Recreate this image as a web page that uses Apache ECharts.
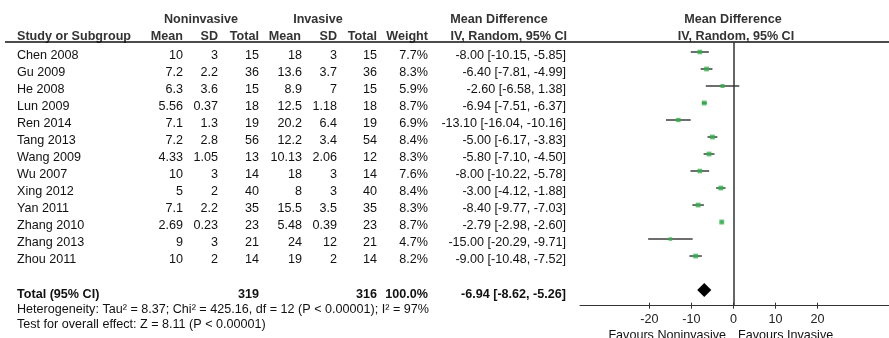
<!DOCTYPE html>
<html>
<head>
<meta charset="utf-8">
<script src="https://cdn.jsdelivr.net/npm/echarts@6/dist/echarts.min.js"></script>
<style>
html,body{margin:0;padding:0;background:#fff;}
#chart{width:889px;height:338px;}
</style>
</head>
<body>
<div id="chart"></div>
<script>
// Study table: noninvasive vs invasive group, mean difference (IV, random)
const studies   = ['Chen 2008','Gu 2009','He 2008','Lun 2009','Ren 2014','Tang 2013','Wang 2009','Wu 2007','Xing 2012','Yan 2011','Zhang 2010','Zhang 2013','Zhou 2011'];
const nonMean   = [10, 7.2, 6.3, 5.56, 7.1, 7.2, 4.33, 10, 5, 7.1, 2.69, 9, 10];
const nonSD     = [3, 2.2, 3.6, 0.37, 1.3, 2.8, 1.05, 3, 2, 2.2, 0.23, 3, 2];
const nonTotal  = [15, 36, 15, 18, 19, 56, 13, 14, 40, 35, 23, 21, 14];
const invMean   = [18, 13.6, 8.9, 12.5, 20.2, 12.2, 10.13, 18, 8, 15.5, 5.48, 24, 19];
const invSD     = [3, 3.7, 7, 1.18, 6.4, 3.4, 2.06, 3, 3, 3.5, 0.39, 12, 2];
const invTotal  = [15, 36, 15, 18, 19, 54, 12, 14, 40, 35, 23, 21, 14];
const weights   = [7.7, 8.3, 5.9, 8.7, 6.9, 8.4, 8.3, 7.6, 8.4, 8.3, 8.7, 4.7, 8.2];
const mdEst     = [-8.00, -6.40, -2.60, -6.94, -13.10, -5.00, -5.80, -8.00, -3.00, -8.40, -2.79, -15.00, -9.00];
const mdLow     = [-10.15, -7.81, -6.58, -7.51, -16.04, -6.17, -7.10, -10.22, -4.12, -9.77, -2.98, -20.29, -10.48];
const mdHigh    = [-5.85, -4.99, 1.38, -6.37, -10.16, -3.83, -4.50, -5.78, -1.88, -7.03, -2.60, -9.71, -7.52];

// Pooled estimate
const totalNon = 319;
const totalInv = 316;
const totalWeight = 100.0;
const pooled = { est: -6.94, low: -8.62, high: -5.26 };
const heterogeneityText = 'Heterogeneity: Tau\u00b2 = 8.37; Chi\u00b2 = 425.16, df = 12 (P < 0.00001); I\u00b2 = 97%';
const overallText = 'Test for overall effect: Z = 8.11 (P < 0.00001)';

// Axis ticks
const xTicks = [-20, -10, 0, 10, 20];
const xMin = -36.5, xMax = 37;

const totalRow = studies.length + 1; // blank row, then the total

const FONT = "'Liberation Sans', Arial, sans-serif";
const FS = 12.6;
const chart = echarts.init(document.getElementById('chart'), null, { renderer: 'canvas' });

const ciData = studies.map((s, i) => [mdLow[i], mdHigh[i], i]);
const pointData = studies.map((s, i) => [mdEst[i], i, weights[i]]);

chart.setOption({
  animation: false,
  grid: { left: 580, right: 0, top: 42, bottom: 32.3 },
  xAxis: [{
    type: 'value', min: xMin, max: xMax, position: 'bottom',
    splitLine: { show: false },
    axisLine: { show: true, onZero: false, lineStyle: { color: '#333', width: 1 } },
    axisTick: { show: true, customValues: xTicks, length: 3, lineStyle: { color: '#333', width: 1 } },
    axisLabel: { customValues: xTicks, color: '#222', fontFamily: FONT, fontSize: FS, margin: 7 }
  }, {
    type: 'value', min: xMin, max: xMax, position: 'bottom',
    splitLine: { show: false },
    axisLine: { show: false, onZero: false },
    axisTick: { show: true, inside: true, customValues: xTicks, length: 3, lineStyle: { color: '#333', width: 1 } },
    axisLabel: { show: false }
  }],
  yAxis: {
    type: 'value', inverse: true, min: -0.588, max: 14.92, show: false
  },
  series: [{
    type: 'custom',
    name: 'ci',
    renderItem: function (params, api) {
      const a = api.coord([api.value(0), api.value(2)]);
      const b = api.coord([api.value(1), api.value(2)]);
      return {
        type: 'line',
        shape: { x1: a[0], y1: a[1], x2: b[0], y2: b[1] },
        style: { stroke: '#6e6e6e', lineWidth: 2 }
      };
    },
    encode: { x: [0, 1], y: 2 },
    data: ciData,
    markLine: {
      silent: true, symbol: 'none',
      label: { show: false },
      lineStyle: { color: '#333', width: 1.5, type: 'solid' },
      data: [{ xAxis: 0 }]
    }
  }, {
    type: 'scatter',
    name: 'estimate',
    symbol: 'rect',
    symbolSize: function (v) { return 1.65 * Math.sqrt(v[2]); },
    itemStyle: { color: '#2db34a' },
    data: pointData,
    z: 3
  }, {
    type: 'custom',
    name: 'pooled',
    renderItem: function (params, api) {
      const l = api.coord([api.value(1), api.value(3)]);
      const c = api.coord([api.value(0), api.value(3)]);
      const r = api.coord([api.value(2), api.value(3)]);
      const h = 7;
      return {
        type: 'polygon',
        shape: { points: [[l[0], c[1]], [c[0], c[1] - h], [r[0], c[1]], [c[0], c[1] + h]] },
        style: { fill: '#000' }
      };
    },
    encode: { x: [0, 1, 2], y: 3 },
    data: [[pooled.est, pooled.low, pooled.high, totalRow]],
    z: 3
  }]
});

// Table text positioned on the same row scale as the plot
function rowY(i) { return chart.convertToPixel({ yAxisIndex: 0 }, i); }
const elems = [];
function txt(text, x, y, align, bold, color) {
  elems.push({
    type: 'text', silent: true,
    style: {
      text: text, x: x, y: y,
      font: (bold ? 'bold ' : '') + FS + 'px ' + FONT,
      fill: color || '#111',
      textAlign: align, textVerticalAlign: 'middle',
      align: align, verticalAlign: 'middle'
    }
  });
}
const fmtCI = (e, l, h) => e.toFixed(2) + ' [' + l.toFixed(2) + ', ' + h.toFixed(2) + ']';

// Header
const HC = '#333';
txt('Noninvasive', 201, 20, 'center', true, HC);
txt('Invasive', 318, 20, 'center', true, HC);
txt('Mean Difference', 499, 20, 'center', true, HC);
txt('Mean Difference', 733, 20, 'center', true, HC);
txt('Study or Subgroup', 17, 37, 'left', true, HC);
txt('Mean', 183, 37, 'right', true, HC);
txt('SD', 218, 37, 'right', true, HC);
txt('Total', 259, 37, 'right', true, HC);
txt('Mean', 301, 37, 'right', true, HC);
txt('SD', 337, 37, 'right', true, HC);
txt('Total', 377, 37, 'right', true, HC);
txt('Weight', 428, 37, 'right', true, HC);
txt('IV, Random, 95% CI', 567, 37, 'right', true, HC);
txt('IV, Random, 95% CI', 736, 37, 'center', true, HC);

// Rows
studies.forEach((s, i) => {
  const y = rowY(i) + 3.7;
  txt(s, 17, y, 'left');
  txt(String(nonMean[i]), 183, y, 'right');
  txt(String(nonSD[i]), 218, y, 'right');
  txt(String(nonTotal[i]), 259, y, 'right');
  txt(String(invMean[i]), 302, y, 'right');
  txt(String(invSD[i]), 337, y, 'right');
  txt(String(invTotal[i]), 377, y, 'right');
  txt(weights[i].toFixed(1) + '%', 428, y, 'right');
  txt(fmtCI(mdEst[i], mdLow[i], mdHigh[i]), 566, y, 'right');
});

// Total and summary lines
const ty = rowY(totalRow) + 4;
txt('Total (95% CI)', 17, ty, 'left', true);
txt(String(totalNon), 259, ty, 'right', true);
txt(String(totalInv), 377, ty, 'right', true);
txt(totalWeight.toFixed(1) + '%', 428, ty, 'right', true);
txt(fmtCI(pooled.est, pooled.low, pooled.high), 566, ty, 'right', true);
txt(heterogeneityText, 17, 309.5, 'left');
txt(overallText, 17, 325, 'left');

// Direction captions under the axis
txt('Favours Noninvasive', 726, 336, 'right');
txt('Favours Invasive', 738, 336, 'left');

// Rule under the header
elems.push({
  type: 'line', silent: true,
  shape: { x1: 5, y1: 42, x2: 889, y2: 42 },
  style: { stroke: '#111', lineWidth: 1.3 }
});

chart.setOption({ graphic: { elements: elems } });
</script>
</body>
</html>
